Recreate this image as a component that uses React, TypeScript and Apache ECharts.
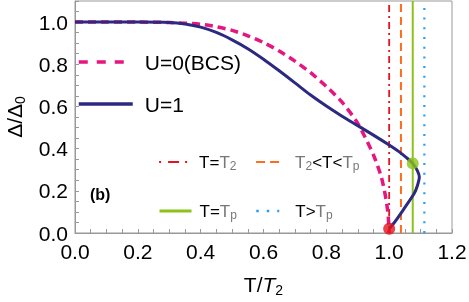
import React, { useEffect, useRef } from "react";
import * as echarts from "echarts";

// U=0 (BCS) gap curve
const bcsT = [0, 0.1, 0.2, 0.3, 0.4, 0.45, 0.5, 0.55, 0.6, 0.65, 0.7, 0.75, 0.8, 0.85, 0.9, 0.95, 0.975, 0.99, 0.997, 1.0];
const bcsD = [1.0, 1.0, 1.0, 0.998, 0.99, 0.978, 0.961, 0.935, 0.903, 0.863, 0.815, 0.76, 0.695, 0.62, 0.52, 0.37, 0.265, 0.16, 0.08, 0.0];

// U=1 gap curve (multivalued near T2..Tp), in path order
const u1T = [0, 0.1, 0.2, 0.3, 0.35, 0.4, 0.45, 0.5, 0.55, 0.6, 0.65, 0.7, 0.75, 0.8, 0.85, 0.9, 0.95, 1.0, 1.03, 1.056, 1.075, 1.09, 1.096, 1.09, 1.08, 1.045, 1.018, 1.0];
const u1D = [1.0, 1.0, 1.0, 0.998, 0.991, 0.976, 0.951, 0.916, 0.874, 0.824, 0.769, 0.712, 0.654, 0.602, 0.554, 0.509, 0.464, 0.417, 0.387, 0.356, 0.33, 0.295, 0.265, 0.225, 0.188, 0.11, 0.053, 0.02];

// vertical reference temperatures
const refNames = ["T=T2", "T2<T<Tp", "T=Tp", "T>Tp"];
const refT = [1.0, 1.0375, 1.075, 1.112];
const yTop = 1.1;

// marked points
const pointT = [1.0, 1.075];
const pointD = [0.02, 0.33];

const FONT = "Liberation Sans";
const NAVY = "#2b2a80";
const MAGENTA = "#e6157f";
const RED = "#e3141c";
const ORANGE = "#ff6b1f";
const GREEN = "#8cc21a";
const BLUE = "#2a9df4";

const zip = (a: number[], b: number[]) => a.map((v, i) => [v, b[i]]);

export default function App() {
  const ref = useRef<HTMLDivElement>(null);
  useEffect(() => {
    const chart = echarts.init(ref.current!, null, { renderer: "svg" });
    const refColors = [RED, ORANGE, GREEN, BLUE];
    const refDash: any[] = [[7, 4, 2, 4], [8, 5], "solid", [2, 7.7]];
    const refWidth = [1.8, 2, 2, 2.2];
    const legDash: any[] = [[2, 7, 11, 6], [9, 5], "solid", [2.5, 8]];
    const legWidth = [2.2, 2.2, 3, 2.5];
    const fmt = (v: number) => {
      const k = v / 0.2;
      return Math.abs(k - Math.round(k)) < 1e-6 ? v.toFixed(1) : "";
    };
    const innerRich = {
      k: { color: "#000", fontSize: 17, fontFamily: FONT, lineHeight: 20 },
      g: { color: "#777", fontSize: 17, fontFamily: FONT, lineHeight: 20 },
      gs: { color: "#777", fontSize: 12, fontFamily: FONT, verticalAlign: "bottom" as const },
    };
    const legendFmt: Record<string, string> = {
      "T=T2": "{k|T=}{g|T}{gs|2}",
      "T2<T<Tp": "{g|T}{gs|2}{k|<T<}{g|T}{gs|p}",
      "T=Tp": "{k|T=}{g|T}{gs|p}",
      "T>Tp": "{k|T>}{g|T}{gs|p}",
    };
    const innerPos = [
      { left: 158, top: 152, w: 29, pad: 6 },
      { left: 255, top: 152, w: 23, pad: 11 },
      { left: 158, top: 201, w: 32, pad: 3 },
      { left: 255, top: 201, w: 23, pad: 11 },
    ];
    const nameRich = {
      n: { fontSize: 21, fontFamily: FONT, color: "#000", lineHeight: 26 },
      i: { fontSize: 21, fontFamily: FONT, color: "#000", fontStyle: "italic" as const, lineHeight: 26 },
      s: { fontSize: 14, fontFamily: FONT, color: "#000", verticalAlign: "bottom" as const },
    };
    const axisCommon = {
      type: "value" as const,
      min: 0,
      interval: 0.05,
      axisLine: { show: true, lineStyle: { color: "#999", width: 1 } },
      axisTick: { show: true, inside: true, length: 4, lineStyle: { color: "#999" } },
      splitLine: { show: false },
      axisLabel: { formatter: fmt, color: "#000", fontSize: 21, fontFamily: FONT },
    };
    chart.setOption({
      animation: false,
      grid: {
        left: 75, right: 17, top: 1, bottom: 69,
        show: true, borderColor: "#999", borderWidth: 1,
        outerBoundsMode: "none",
      },
      xAxis: {
        ...axisCommon,
        max: 1.2,
        axisLabel: { ...axisCommon.axisLabel, margin: 8 },
        name: "{n|T/}{i|T}{s|2}",
        nameLocation: "middle",
        nameGap: 38,
        nameTextStyle: { rich: nameRich },
      },
      yAxis: {
        ...axisCommon,
        max: yTop,
        axisLabel: { ...axisCommon.axisLabel, margin: 7 },
        name: "{n|Δ/Δ}{s|0}",
        nameLocation: "middle",
        nameRotate: 90,
        nameGap: 48,
        nameTextStyle: { rich: nameRich },
      },
      legend: [
        {
          data: ["U=0(BCS)"], left: 77, top: 50, padding: 0, itemWidth: 48, itemHeight: 14,
          itemStyle: { opacity: 0 },
          lineStyle: { type: [9, 9], width: 3.5 },
          textStyle: { fontSize: 21, fontFamily: FONT, color: "#000", lineHeight: 24, padding: [0, 0, 0, 13] },
        },
        {
          data: ["U=1"], left: 77, top: 92, padding: 0, itemWidth: 54, itemHeight: 14,
          itemStyle: { opacity: 0 },
          lineStyle: { width: 3.5 },
          textStyle: { fontSize: 21, fontFamily: FONT, color: "#000", lineHeight: 24, padding: [0, 0, 0, 7] },
        },
        ...refNames.map((n, i) => ({
          data: [n], left: innerPos[i].left, top: innerPos[i].top, padding: 0,
          itemWidth: innerPos[i].w, itemHeight: 10,
          itemStyle: { opacity: 0 },
          lineStyle: { type: legDash[i], width: legWidth[i] },
          formatter: (name: string) => legendFmt[name],
          textStyle: { fontSize: 17, fontFamily: FONT, color: "#000", lineHeight: 20, padding: [0, 0, 0, innerPos[i].pad], rich: innerRich },
        })),
      ],
      graphic: [
        {
          type: "text", left: 90, top: 186,
          style: { text: "(b)", fontSize: 16, fontWeight: "bold", fontFamily: FONT, fill: "#000" },
        },
      ],
      series: [
        ...refNames.map((n, i) => ({
          name: n,
          type: "line",
          data: [[refT[i], 0], [refT[i], yTop]],
          symbol: "none",
          lineStyle: { color: refColors[i], width: refWidth[i], type: refDash[i] },
          itemStyle: { color: refColors[i] },
          z: 2,
        })),
        {
          name: "U=0(BCS)",
          type: "line",
          data: zip(bcsT, bcsD),
          smooth: 0.25,
          symbol: "none",
          lineStyle: { color: MAGENTA, width: 3.5, type: [8, 5] },
          itemStyle: { color: MAGENTA },
          z: 3,
        },
        {
          name: "U=1",
          type: "line",
          data: zip(u1T, u1D),
          smooth: 0.25,
          symbol: "none",
          lineStyle: { color: NAVY, width: 3 },
          itemStyle: { color: NAVY },
          z: 4,
        },
        {
          type: "scatter",
          symbolSize: 12,
          data: zip(pointT, pointD).map((p, i) => ({ value: p, itemStyle: { color: i === 0 ? RED : GREEN } })),
          z: 5,
        },
      ],
    });
    return () => chart.dispose();
  }, []);
  return <div ref={ref} style={{ width: 469, height: 302, position: "fixed", left: 0, top: 0 }} />;
}
